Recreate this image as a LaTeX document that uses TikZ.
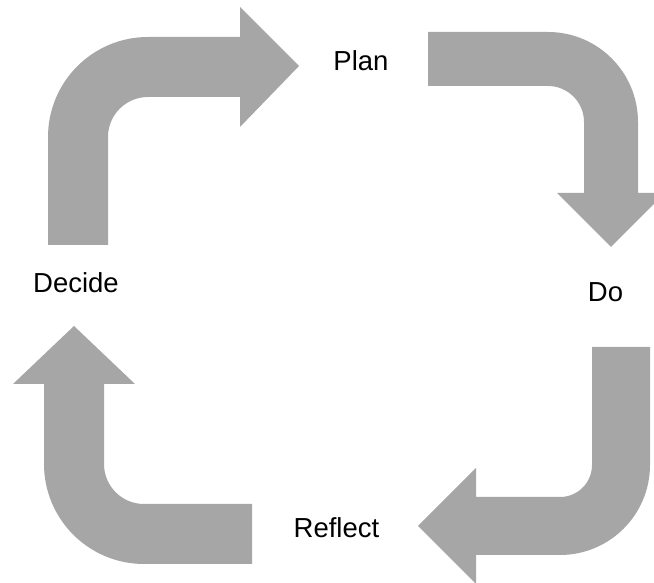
\documentclass[tikz,border=0pt]{standalone}
\usepackage{fontspec}
\setmainfont{Liberation Sans}
\usepackage{tikz}

\definecolor{arrowgray}{RGB}{166,166,166}

\begin{document}
\begin{tikzpicture}[x=1pt,y=1pt,
    bendarrow/.style={fill=arrowgray,draw=none},
    step label/.style={font=\fontsize{27.5}{33}\selectfont,anchor=base,inner sep=0pt}]
  \clip (0,0) rectangle (654,583);

  % Decide -> Plan (oben links)
  \fill[bendarrow] (48,338) -- (48,446) arc[start angle=180,end angle=90,radius=100]
    -- (240,546) -- (240,576) -- (299,517) -- (240,456) -- (240,486)
    -- (148,486) arc[start angle=90,end angle=180,radius=40] -- (108,338) -- cycle;

  % Plan -> Do (oben rechts)
  \fill[bendarrow] (428,551) -- (548,551) arc[start angle=90,end angle=0,radius=90]
    -- (638,390) -- (665,390) -- (611,336) -- (557,390) -- (584,390)
    -- (584,461) arc[start angle=0,end angle=90,radius=36] -- (428,497) -- cycle;

  % Do -> Reflect (unten rechts)
  \fill[bendarrow] (650,236) -- (650,118) arc[start angle=0,end angle=-90,radius=90]
    -- (476,28) -- (476,-1) -- (418,57) -- (476,115) -- (476,86)
    -- (560,86) arc[start angle=-90,end angle=0,radius=32] -- (592,236) -- cycle;

  % Reflect -> Decide (unten links)
  \fill[bendarrow] (252,19) -- (144,19) arc[start angle=270,end angle=180,radius=100]
    -- (44,199) -- (13,199) -- (74,257) -- (135,199) -- (104,199)
    -- (104,119) arc[start angle=180,end angle=270,radius=40] -- (252,79) -- cycle;

  % Beschriftungen
  \node[step label] (plan)    at (361,512) {Plan};
  \node[step label] (do)      at (605.5,281) {Do};
  \node[step label] (reflect) at (336.5,45) {Reflect};
  \node[step label] (decide)  at (76,290) {Decide};
\end{tikzpicture}
\end{document}
